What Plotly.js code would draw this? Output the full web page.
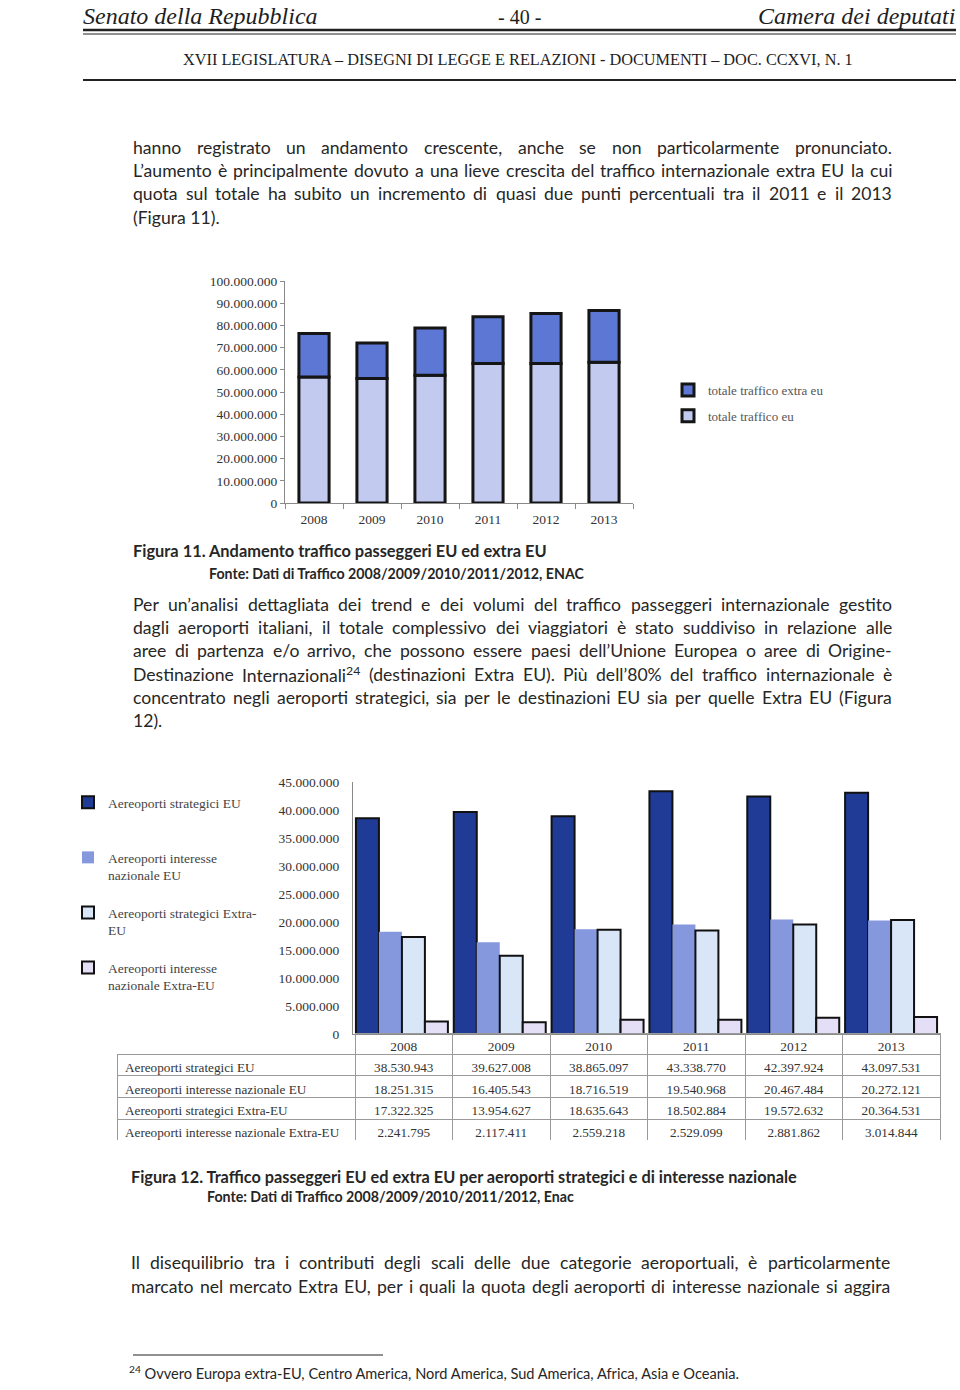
<!DOCTYPE html>
<html>
<head>
<meta charset="utf-8">
<script src="https://cdn.plot.ly/plotly-3.0.1.min.js"></script>
<style>html,body{margin:0;padding:0;background:#fff}#page{width:960px;height:1390px}</style>
</head>
<body>
<div id="page"></div>
<script>
// ---------- DATA ----------
const years = ['2008', '2009', '2010', '2011', '2012', '2013'];

// Figura 11
const fig11SeriesNames = ['totale traffico eu', 'totale traffico extra eu'];
const totaleTrafficoEU = [56782258, 56032551, 57581616, 62879738, 62865408, 63369652];
const totaleTrafficoExtraEU = [19564120, 16072038, 21194861, 21031983, 22454494, 23379375];

// Figura 12
const fig12SeriesNames = ['Aereoporti strategici EU', 'Aereoporti interesse nazionale EU',
  'Aereoporti strategici Extra-EU', 'Aereoporti interesse nazionale Extra-EU'];
const fig12LegendNames = ['Aereoporti strategici EU<br> ', 'Aereoporti interesse<br>nazionale EU',
  'Aereoporti strategici Extra-<br>EU', 'Aereoporti interesse<br>nazionale Extra-EU'];
const strategiciEU = [38530943, 39627008, 38865097, 43338770, 42397924, 43097531];
const interesseNazionaleEU = [18251315, 16405543, 18716519, 19540968, 20467484, 20272121];
const strategiciExtraEU = [17322325, 13954627, 18635643, 18502884, 19572632, 20364531];
const interesseNazionaleExtraEU = [2241795, 2117411, 2559218, 2529099, 2881862, 3014844];

// ---------- helpers (page geometry) ----------
const W = 960, H = 1390;
const px = x => x / W;
const py = y => 1 - y / H;
function fmt(n) { return String(n).replace(/\B(?=(\d{3})+(?!\d))/g, '.'); }

const serif = 'Liberation Serif';
const body = 'Lato';
const txt = '#262626';

// ---------- TRACES ----------
const traces = [];
traces.push({
  type: 'bar', x: years, y: totaleTrafficoEU, name: fig11SeriesNames[0],
  xaxis: 'x', yaxis: 'y', width: 0.52, legend: 'legend', legendgroup: 'a1', legendrank: 2,
  marker: {color: '#c3caf0', line: {color: '#151515', width: 3}}, hoverinfo: 'skip'
});
traces.push({
  type: 'bar', x: years, y: totaleTrafficoExtraEU, base: totaleTrafficoEU, name: fig11SeriesNames[1],
  xaxis: 'x', yaxis: 'y', width: 0.52, legend: 'legend', legendgroup: 'a2', legendrank: 1,
  marker: {color: '#5d77d4', line: {color: '#151515', width: 3}}, hoverinfo: 'skip'
});

const f12 = [
  {y: strategiciEU, color: '#1f3b96', line: '#111', lw: 2, off: -0.47},
  {y: interesseNazionaleEU, color: '#8598de', line: 'rgba(0,0,0,0)', lw: 0, off: -0.235},
  {y: strategiciExtraEU, color: '#d9e6f8', line: '#111', lw: 2, off: 0.0},
  {y: interesseNazionaleExtraEU, color: '#e4def6', line: '#111', lw: 2, off: 0.235}
];
f12.forEach((s, i) => {
  traces.push({
    type: 'bar', x: years, y: s.y, name: fig12LegendNames[i],
    xaxis: 'x2', yaxis: 'y2', width: 0.235, offset: s.off,
    legend: 'legend2', legendgroup: 'g' + i,
    marker: {color: s.color, line: {color: s.line, width: s.lw}}, hoverinfo: 'skip'
  });
});

const tableCols = [fig12SeriesNames].concat(years.map((yr, j) => [
  fmt(strategiciEU[j]), fmt(interesseNazionaleEU[j]), fmt(strategiciExtraEU[j]), fmt(interesseNazionaleExtraEU[j])
]));
const noFill = 'rgba(0,0,0,0)';
traces.push({
  type: 'table',
  domain: {x: [px(117), px(940)], y: [py(1141), py(1033)]},
  columnwidth: [238, 97.5, 97.5, 97.5, 97.5, 97.5, 97.5],
  header: {
    values: [' '].concat(years), height: 21,
    align: 'center', fill: {color: noFill},
    line: {color: [noFill, '#9a9a9a', '#9a9a9a', '#9a9a9a', '#9a9a9a', '#9a9a9a', '#9a9a9a'], width: 1},
    font: {family: serif, size: 13.4, color: '#333'}
  },
  cells: {
    values: tableCols, height: 21.7,
    align: ['left', 'center', 'center', 'center', 'center', 'center', 'center'],
    fill: {color: noFill}, line: {color: '#9a9a9a', width: 1},
    font: {family: serif, size: 13.2, color: '#333'}
  }
});

// ---------- ANNOTATIONS ----------
const ann = [];
function T(text, x, y, size, opts) {
  ann.push(Object.assign({
    text: text, x: px(x), y: py(y), xref: 'paper', yref: 'paper', showarrow: false,
    xanchor: 'left', yanchor: 'middle', borderpad: 0, borderwidth: 0,
    font: {family: body, size: size, color: txt}
  }, opts || {}));
}
const cv = document.createElement('canvas').getContext('2d');
function wordWidth(w, size) {
  const m = w.match(/^(.*)<sup>(.*)<\/sup>(.*)$/);
  cv.font = size + 'px ' + body;
  if (m) {
    const a = cv.measureText(m[1] + m[3]).width;
    cv.font = (size * 0.7) + 'px ' + body;
    return a + cv.measureText(m[2]).width;
  }
  return cv.measureText(w).width;
}
function J(line, x0, x1, y, size, justify) {
  if (!justify) { T(line, x0, y, size); return; }
  const words = line.split(' ');
  const ws = words.map(w => wordWidth(w, size));
  const total = ws.reduce((a, b) => a + b, 0);
  const gap = (x1 - x0 - total) / (words.length - 1);
  let x = x0;
  words.forEach((w, i) => { T(w, x, y, size); x += ws[i] + gap; });
}
function para(lines, x0, x1, y0, dy, size, lastJustified) {
  lines.forEach((l, i) => J(l, x0, x1, y0 + i * dy, size, lastJustified || i < lines.length - 1));
}

// header
T('<i>Senato della Repubblica</i>', 83, 16, 24, {font: {family: serif, size: 24, color: '#1e1e1e'}});
T('- 40 -', 519, 17, 20, {xanchor: 'center', font: {family: serif, size: 20, color: '#1e1e1e'}});
T('<i>Camera dei deputati</i>', 955, 16, 24, {xanchor: 'right', font: {family: serif, size: 24, color: '#1e1e1e'}});
T('XVII LEGISLATURA – DISEGNI DI LEGGE E RELAZIONI - DOCUMENTI – DOC. CCXVI, N. 1', 518, 60, 16.3,
  {xanchor: 'center', font: {family: serif, size: 16.3, color: '#1e1e1e'}});

const BS = 17.6;
para([
  'hanno registrato un andamento crescente, anche se non particolarmente pronunciato.',
  'L’aumento è principalmente dovuto a una lieve crescita del traffico internazionale extra EU la cui',
  'quota sul totale ha subito un incremento di quasi due punti percentuali tra il 2011 e il 2013',
  '(Figura 11).'
], 133, 892, 147, 23.4, BS);

T('<b>Figura 11. Andamento traffico passeggeri EU ed extra EU</b>', 133, 551, 16.4);
T('<b>Fonte: Dati di Traffico 2008/2009/2010/2011/2012, ENAC</b>', 209, 573, 14.2);

para([
  'Per un’analisi dettagliata dei trend e dei volumi del traffico passeggeri internazionale gestito',
  'dagli aeroporti italiani, il totale complessivo dei viaggiatori è stato suddiviso in relazione alle',
  'aree di partenza e/o arrivo, che possono essere paesi dell’Unione Europea o aree di Origine-',
  'Destinazione Internazionali<sup>24</sup> (destinazioni Extra EU). Più dell’80% del traffico internazionale è',
  'concentrato negli aeroporti strategici, sia per le destinazioni EU sia per quelle Extra EU (Figura',
  '12).'
], 133, 892, 604, 23.4, BS);

T('<b>Figura 12. Traffico passeggeri EU ed extra EU per aeroporti strategici e di interesse nazionale</b>', 131, 1176, 16.3);
T('<b>Fonte: Dati di Traffico 2008/2009/2010/2011/2012, Enac</b>', 207, 1196, 14.2);

para([
  'Il disequilibrio tra i contributi degli scali delle due categorie aeroportuali, è particolarmente',
  'marcato nel mercato Extra EU, per i quali la quota degli aeroporti di interesse nazionale si aggira'
], 131, 890, 1262, 24, BS, true);

T('<sup>24</sup> Ovvero Europa extra-EU, Centro America, Nord America, Sud America, Africa, Asia e Oceania.', 129, 1372, 14.6);

// ---------- SHAPES ----------
const shapes = [
  {type: 'line', xref: 'paper', yref: 'paper', x0: px(83), x1: px(956), y0: py(30), y1: py(30), line: {color: '#222', width: 2.5}},
  {type: 'line', xref: 'paper', yref: 'paper', x0: px(83), x1: px(956), y0: py(34), y1: py(34), line: {color: '#222', width: 1}},
  {type: 'line', xref: 'paper', yref: 'paper', x0: px(83), x1: px(956), y0: py(80), y1: py(80), line: {color: '#222', width: 1.8}},
  {type: 'line', xref: 'paper', yref: 'paper', x0: px(133), x1: px(383), y0: py(1355), y1: py(1355), line: {color: '#222', width: 1}}
];

// ---------- LAYOUT ----------
const axisFont = {family: serif, size: 13.5, color: '#333'};
const layout = {
  width: W, height: H, margin: {l: 0, r: 0, t: 0, b: 0},
  paper_bgcolor: '#fff', plot_bgcolor: 'rgba(0,0,0,0)',
  separators: ',.', barmode: 'overlay', showlegend: true,
  xaxis: {
    domain: [px(285), px(633)], anchor: 'y', type: 'category',
    showline: true, linecolor: '#8a8a8a', linewidth: 1, ticks: 'outside', tickson: 'boundaries',
    ticklen: 5, tickcolor: '#8a8a8a', tickfont: axisFont, ticklabelstandoff: 4, showgrid: false, fixedrange: true
  },
  yaxis: {
    domain: [py(503), py(281)], anchor: 'x', range: [0, 100000000], dtick: 10000000, tickformat: ',d',
    showline: true, linecolor: '#8a8a8a', linewidth: 1, ticks: 'outside', ticklen: 4, tickcolor: '#8a8a8a',
    tickfont: axisFont, showgrid: false, zeroline: false, fixedrange: true
  },
  xaxis2: {
    domain: [px(353), px(940)], anchor: 'y2', type: 'category',
    showline: true, linecolor: '#8a8a8a', showticklabels: false, ticks: '', showgrid: false, fixedrange: true
  },
  yaxis2: {
    domain: [py(1034), py(782)], anchor: 'x2', range: [0, 45000000], dtick: 5000000, tickformat: ',d',
    showline: true, linecolor: '#8a8a8a', linewidth: 1, ticks: '', ticklabelstandoff: 10,
    tickfont: axisFont, showgrid: false, zeroline: false, fixedrange: true
  },
  legend: {
    x: px(668), y: py(375), xanchor: 'left', yanchor: 'top', bgcolor: 'rgba(0,0,0,0)',
    font: {family: serif, size: 13, color: '#555'}, tracegroupgap: 6, itemwidth: 30, traceorder: 'grouped'
  },
  legend2: {
    x: px(68), y: py(787), xanchor: 'left', yanchor: 'top', bgcolor: 'rgba(0,0,0,0)', valign: 'top',
    font: {family: serif, size: 13.5, color: '#444'}, tracegroupgap: 17, itemwidth: 30, traceorder: 'grouped'
  },
  annotations: ann,
  shapes: shapes
};

Plotly.newPlot('page', traces, layout, {staticPlot: true, displayModeBar: false});
</script>
</body>
</html>
